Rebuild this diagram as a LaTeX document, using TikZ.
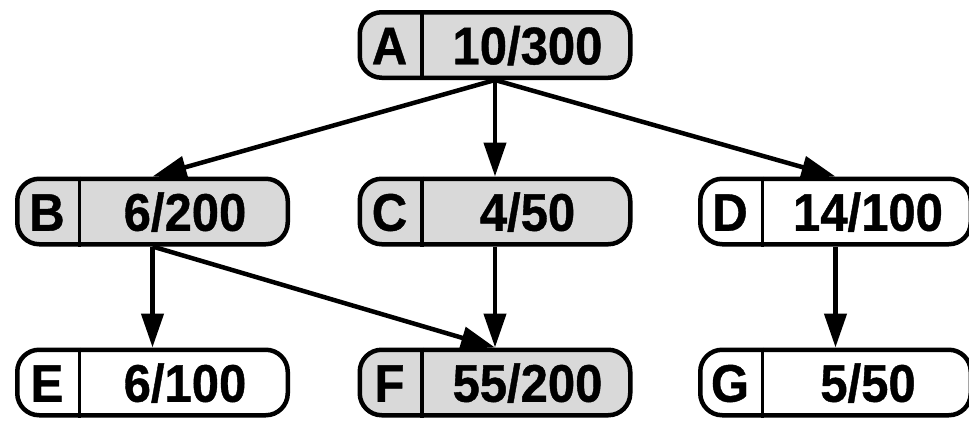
\documentclass[tikz,border=0pt]{standalone}
\usepackage{fontspec}
\usepackage{graphicx}
\setmainfont{Liberation Sans}[BoldFeatures={FakeBold=0.8}]
\usetikzlibrary{arrows.meta,calc}

\tikzset{
  box/.style={draw, line width=4.5pt, rounded corners=22pt,
    minimum width=270.5pt, minimum height=65.5pt, inner sep=0pt},
  shaded/.style={box, fill=black!15},
  plain/.style={box, fill=white},
  txt/.style={font=\fontsize{49}{60}\selectfont\bfseries, inner sep=0pt,
    text height=38.5pt, text depth=0pt},
  divider/.style={line width=3.5pt},
  link/.style={line width=4.5pt, -{Triangle[length=34pt,width=22pt]}, shorten >=0pt}
}

% slightly tall lettering for the record fields
\newcommand{\tall}[1]{\scalebox{1}[1.08]{#1}}

% one record: rounded box, name field on the left, value on the right
\newcommand{\recbox}[5]{%
  \node[#2] (#1) at (#3) {};
  \draw[divider] ($(#1.north west)+(64.5,0)$) -- ($(#1.south west)+(64.5,0)$);
  \node[txt] (#1l) at ($(#1.west)+(32,0)$) {\tall{#4}};
  \node[txt] (#1v) at ($(#1.west)+(170,0)$) {\tall{#5}};
}

\begin{document}
\begin{tikzpicture}[x=1pt, y=-1pt]
  \useasboundingbox (0,0) rectangle (969,421);

  \recbox{A}{shaded}{495,45}{A}{10/300}
  \recbox{B}{shaded}{152.5,211.5}{B}{6/200}
  \recbox{C}{shaded}{495,211.5}{C}{4/50}
  \recbox{D}{plain}{835.5,211.5}{D}{14/100}
  \recbox{E}{plain}{152.5,382.5}{E}{6/100}
  \recbox{F}{shaded}{495,382.5}{F}{55/200}
  \recbox{G}{plain}{835.5,382.5}{G}{5/50}

  \draw[link] (A.south) -- (B.north);
  \draw[link] (A.south) -- (C.north);
  \draw[link] (A.south) -- (D.north);
  \draw[link] (B.south) -- (E.north);
  \draw[link] (B.south) -- (F.north);
  \draw[link] (C.south) -- (F.north);
  \draw[link] (D.south) -- (G.north);
\end{tikzpicture}
\end{document}
